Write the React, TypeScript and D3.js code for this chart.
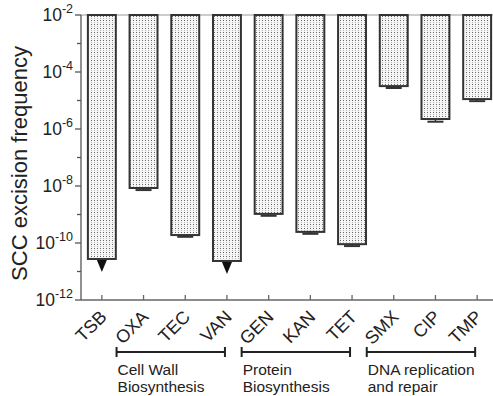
import { useRef, useEffect } from 'react';
import * as d3 from 'd3';

// categories and values
const categories = ['TSB', 'OXA', 'TEC', 'VAN', 'GEN', 'KAN', 'TET', 'SMX', 'CIP', 'TMP'];
const frequency = [2.75e-11, 8.5e-9, 1.9e-10, 2.34e-11, 1.05e-9, 2.45e-10, 9.1e-11, 3.2e-5, 2.24e-6, 1.12e-5];
// lower end of the error bar (null where the value is a detection limit)
const errorLow: (number | null)[] = [null, 7.2e-9, 1.65e-10, null, 9.0e-10, 2.1e-10, 7.8e-11, 2.75e-5, 1.8e-6, 9.5e-6];
// bars whose value is below detection limit
const belowLimit = [true, false, false, true, false, false, false, false, false, false];

const majorExponents = [-2, -4, -6, -8, -10, -12];
const minorExponents = [-3, -5, -7, -9, -11];

const groupNames = [['Cell Wall', 'Biosynthesis'], ['Protein', 'Biosynthesis'], ['DNA replication', 'and repair']];
const groupFirst = ['OXA', 'GEN', 'SMX'];
const groupLast = ['VAN', 'TET', 'TMP'];

const FONT = '"Liberation Sans", Arial, sans-serif';

export default function App() {
    const svgRef = useRef<SVGSVGElement>(null);

    useEffect(() => {
        if (!svgRef.current) return;
        const width = 493;
        const height = 396;
        const margin = { top: 15, left: 81, bottom: 300, right: 498 };

        const svg = d3.select(svgRef.current);
        svg.selectAll('*').remove();
        svg.attr('width', width).attr('height', height);

        // dotted fill
        const defs = svg.append('defs');
        const pat = defs.append('pattern')
            .attr('id', 'dots')
            .attr('patternUnits', 'userSpaceOnUse')
            .attr('width', 3)
            .attr('height', 4);
        pat.append('rect').attr('width', 3).attr('height', 4).attr('fill', '#f6f6f6');
        pat.append('rect').attr('x', 1).attr('y', 0).attr('width', 1).attr('height', 1).attr('fill', '#666');
        pat.append('rect').attr('x', 1).attr('y', 2).attr('width', 1).attr('height', 1).attr('fill', '#b8b8b8');

        const x = d3.scaleBand<string>()
            .domain(categories)
            .range([margin.left, margin.right])
            .paddingInner(0.33)
            .paddingOuter(0.165);

        const y = d3.scaleLog()
            .domain([1e-12, 1e-2])
            .range([margin.bottom, margin.top]);

        const cx = (c: string) => (x(c) ?? 0) + x.bandwidth() / 2;

        // frame lines
        svg.append('line')
            .attr('x1', margin.left).attr('x2', width)
            .attr('y1', margin.top).attr('y2', margin.top)
            .attr('stroke', '#999').attr('stroke-width', 1);
        svg.append('line')
            .attr('x1', margin.left).attr('x2', width)
            .attr('y1', margin.bottom).attr('y2', margin.bottom)
            .attr('stroke', '#666').attr('stroke-width', 1.3);
        svg.append('line')
            .attr('x1', margin.left).attr('x2', margin.left)
            .attr('y1', margin.top).attr('y2', margin.bottom)
            .attr('stroke', '#555').attr('stroke-width', 1.3);

        // y ticks
        majorExponents.forEach(e => {
            const yy = y(Math.pow(10, e));
            svg.append('line')
                .attr('x1', margin.left - 6).attr('x2', margin.left)
                .attr('y1', yy).attr('y2', yy)
                .attr('stroke', '#555').attr('stroke-width', 1.3);
            const t = svg.append('text')
                .attr('x', 73)
                .attr('y', yy + 6)
                .attr('text-anchor', 'end')
                .attr('fill', '#222')
                .style('font-family', FONT)
                .style('font-size', '17.5px');
            t.append('tspan').text('10');
            t.append('tspan')
                .attr('dy', -8)
                .style('font-size', '12.5px')
                .text(String(e));
        });
        minorExponents.forEach(e => {
            const yy = y(Math.pow(10, e));
            svg.append('line')
                .attr('x1', margin.left - 4).attr('x2', margin.left)
                .attr('y1', yy).attr('y2', yy)
                .attr('stroke', '#555').attr('stroke-width', 1.3);
        });

        // y title
        svg.append('text')
            .attr('transform', `translate(27, ${(margin.top + margin.bottom) / 2 + 6}) rotate(-90)`)
            .attr('text-anchor', 'middle')
            .attr('fill', '#222')
            .style('font-family', FONT)
            .style('font-size', '22px')
            .text('SCC excision frequency');

        // x ticks (inward)
        categories.forEach(c => {
            svg.append('line')
                .attr('x1', cx(c)).attr('x2', cx(c))
                .attr('y1', margin.bottom - 5).attr('y2', margin.bottom)
                .attr('stroke', '#666').attr('stroke-width', 1.3);
        });

        // bars hang from the top of the axis down to the value
        categories.forEach((c, i) => {
            const top = y(1e-2);
            const bottom = y(frequency[i]);
            svg.append('rect')
                .attr('x', x(c) ?? 0)
                .attr('y', top)
                .attr('width', x.bandwidth())
                .attr('height', bottom - top)
                .attr('fill', 'url(#dots)')
                .attr('stroke', '#333')
                .attr('stroke-width', 2);

            const lo = errorLow[i];
            if (lo !== null) {
                svg.append('line')
                    .attr('x1', cx(c)).attr('x2', cx(c))
                    .attr('y1', bottom).attr('y2', y(lo))
                    .attr('stroke', '#333').attr('stroke-width', 1.5);
                svg.append('line')
                    .attr('x1', cx(c) - 8).attr('x2', cx(c) + 8)
                    .attr('y1', y(lo)).attr('y2', y(lo))
                    .attr('stroke', '#333').attr('stroke-width', 2);
            }
            if (belowLimit[i]) {
                const tip = bottom + 13;
                svg.append('path')
                    .attr('d', `M${cx(c) - 5},${bottom + 1}L${cx(c) + 5},${bottom + 1}L${cx(c)},${tip}Z`)
                    .attr('fill', '#111');
            }
        });

        // x labels
        categories.forEach(c => {
            svg.append('text')
                .attr('transform', `translate(${cx(c) + 6}, 318) rotate(-45)`)
                .attr('text-anchor', 'end')
                .attr('fill', '#222')
                .style('font-family', FONT)
                .style('font-size', '18px')
                .text(c);
        });

        // groups
        const by = 352;
        groupNames.forEach((lines, g) => {
            const x1 = cx(groupFirst[g]) - 27;
            const x2 = cx(groupLast[g]) - 2;
            svg.append('line')
                .attr('x1', x1).attr('x2', x2)
                .attr('y1', by).attr('y2', by)
                .attr('stroke', '#222').attr('stroke-width', 2);
            [x1, x2].forEach(xx => {
                svg.append('line')
                    .attr('x1', xx).attr('x2', xx)
                    .attr('y1', by - 5).attr('y2', by + 5)
                    .attr('stroke', '#222').attr('stroke-width', 2);
            });
            lines.forEach((ln, k) => {
                svg.append('text')
                    .attr('x', x1 + 1)
                    .attr('y', 375 + k * 16.5)
                    .attr('fill', '#222')
                    .style('font-family', FONT)
                    .style('font-size', '15.5px')
                    .text(ln);
            });
        });
    }, []);

    return (
        <div style={{ position: 'absolute', left: 0, top: 0 }}>
            <svg ref={svgRef} style={{ display: 'block', background: '#fff' }}></svg>
        </div>
    );
}
